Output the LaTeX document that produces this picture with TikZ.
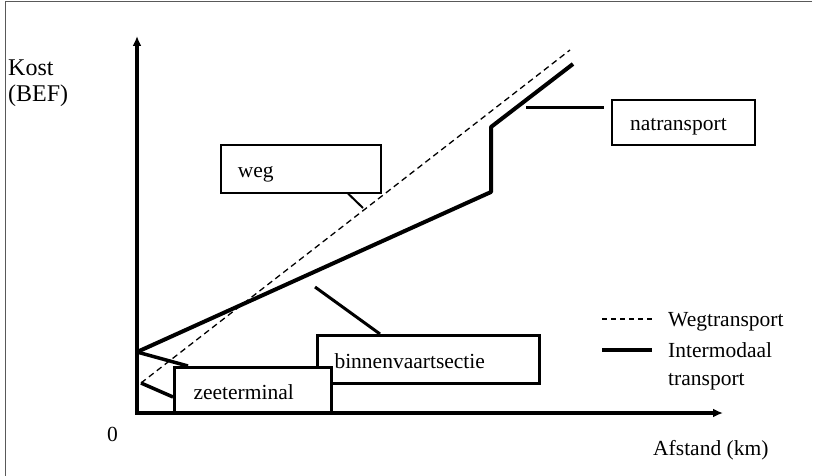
\documentclass[tikz,border=0pt]{standalone}
\usepackage{fontspec}
\setmainfont{Liberation Serif}
\usetikzlibrary{arrows.meta}
\begin{document}
\begin{tikzpicture}[x=1pt,y=-1pt,
  lbl/.style={anchor=base west,inner sep=0pt,font=\fontsize{21.5}{24}\selectfont},
  biglbl/.style={anchor=base west,inner sep=0pt,font=\fontsize{24}{26}\selectfont},
  box/.style={draw,fill=white,anchor=north west,align=left,inner ysep=0pt,
     text height=17pt,text depth=0pt,
     font=\fontsize{21.5}{24}\selectfont},
  axis/.style={line width=3.5pt,-{Latex[length=10pt,width=9pt]}},
  inter/.style={line width=4pt,line join=round},
  road/.style={line width=1.3pt,dash pattern=on 6pt off 4pt},
  callout/.style={line width=3pt}]
\useasboundingbox (0,0) rectangle (813,476);
% frame (top and left only)
\draw[line width=1pt,gray!70!black] (812,1.5) -- (5,1.5) -- (5,476);
% curves
\coordinate (s1) at (137,352);
\coordinate (s2) at (141,383);
\coordinate (d1) at (570,50);
\coordinate (k1) at (491,192);
\coordinate (k2) at (491,127);
\coordinate (k3) at (573,64);
\draw[road] (s2) -- (d1);
\draw[inter] (s1) -- (k1) -- (k2) -- (k3);
% boxes
\node[box,line width=1.5pt,minimum height=48pt,inner xsep=17pt,text width=126pt] (weg) at (220,144) {weg};
\node[box,line width=2pt,minimum height=45pt,inner xsep=18pt,text width=107pt] (nat) at (611,99) {natransport};
\node[box,line width=3pt,minimum height=48pt,inner xsep=17pt,text width=188pt] (bin) at (316,334) {binnenvaartsectie};
\node[box,line width=3pt,minimum height=46pt,inner xsep=19pt,text width=119pt] (zee) at (173,366) {zeeterminal};
% callouts
\coordinate (cw) at (363,208);
\coordinate (cn) at (526,108);
\coordinate (cb) at (315,287);
\draw[line width=2pt] ([xshift=128pt]weg.south west) -- (cw);
\draw[callout] (cn) -- ([xshift=-7pt,yshift=-9pt]nat.north west);
\draw[callout] ([xshift=64pt]bin.north west) -- (cb);
\draw[line width=3.5pt] ([xshift=15pt]zee.north west) -- (s1);
\draw[line width=3.5pt] ([yshift=-31pt]zee.north west) -- (s2);
% axes
\coordinate (o) at (137,413);
\coordinate (ytip) at (137,36);
\coordinate (xtip) at (723,413);
\draw[axis] (o) -- (ytip);
\draw[axis] ([xshift=-1.75pt]o) -- (xtip);
% labels
\node[biglbl] (kost) at (8,76) {Kost};
\node[biglbl] (bef) at (8,102) {(BEF)};
\node[lbl] (zero) at (107,441) {0};
\node[lbl] (afst) at (653,455) {Afstand (km)};
% legend
\coordinate (l1a) at (602,319);
\coordinate (l1b) at (652,319);
\coordinate (l2a) at (602,350);
\coordinate (l2b) at (652,350);
\draw[line width=1.3pt,dash pattern=on 5pt off 4pt] (l1a) -- (l1b);
\draw[line width=3.5pt] (l2a) -- (l2b);
\node[lbl] (lw) at (668,326) {Wegtransport};
\node[lbl] (li) at (668,357) {Intermodaal};
\node[lbl] (lt) at (668,385) {transport};
\end{tikzpicture}
\end{document}
